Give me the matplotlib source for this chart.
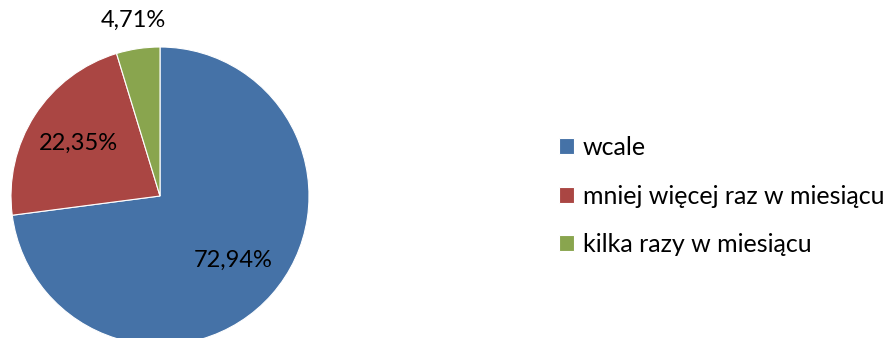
import numpy as np
import matplotlib.pyplot as plt

labels = ["wcale", "mniej więcej raz w miesiącu", "kilka razy w miesiącu"]
values = [72.94, 22.35, 4.71]
pct_texts = ["72,94%", "22,35%", "4,71%"]
colors = ["#4572A7", "#AA4643", "#89A54E"]

plt.rcParams['font.family'] = ['Lato', 'DejaVu Sans']


def main():
    fig = plt.figure(figsize=(8.89, 3.38), dpi=100)
    # square axes: pie centre at (160, 196) px, radius 149 px
    ax = fig.add_axes([11 / 889, -7 / 338, 298 / 889, 298 / 338])
    wedges, _ = ax.pie(values, colors=colors, startangle=90, counterclock=False,
                       radius=1, wedgeprops=dict(edgecolor="white", linewidth=0.8))
    ax.set_xlim(-1, 1)
    ax.set_ylim(-1, 1)
    ax.set_aspect("equal")
    ax.axis("off")

    # percentage labels, the small slice gets its label outside
    for w, txt in zip(wedges, pct_texts):
        ang = np.deg2rad((w.theta1 + w.theta2) / 2)
        d = 1.19 if (w.theta2 - w.theta1) < 30 else 0.65
        ax.text(d * np.cos(ang), d * np.sin(ang), txt, ha="center", va="center",
                fontsize=17, color="black", clip_on=False)

    fig.legend(wedges, labels, loc="center left", bbox_to_anchor=(559 / 889, (338 - 196) / 338),
               frameon=False, fontsize=18, handlelength=0.6, handleheight=0.6,
               handletextpad=0.35, labelspacing=1.02, borderaxespad=0, borderpad=0)

    fig.savefig("out.png", dpi=100)


if __name__ == "__main__":
    main()
